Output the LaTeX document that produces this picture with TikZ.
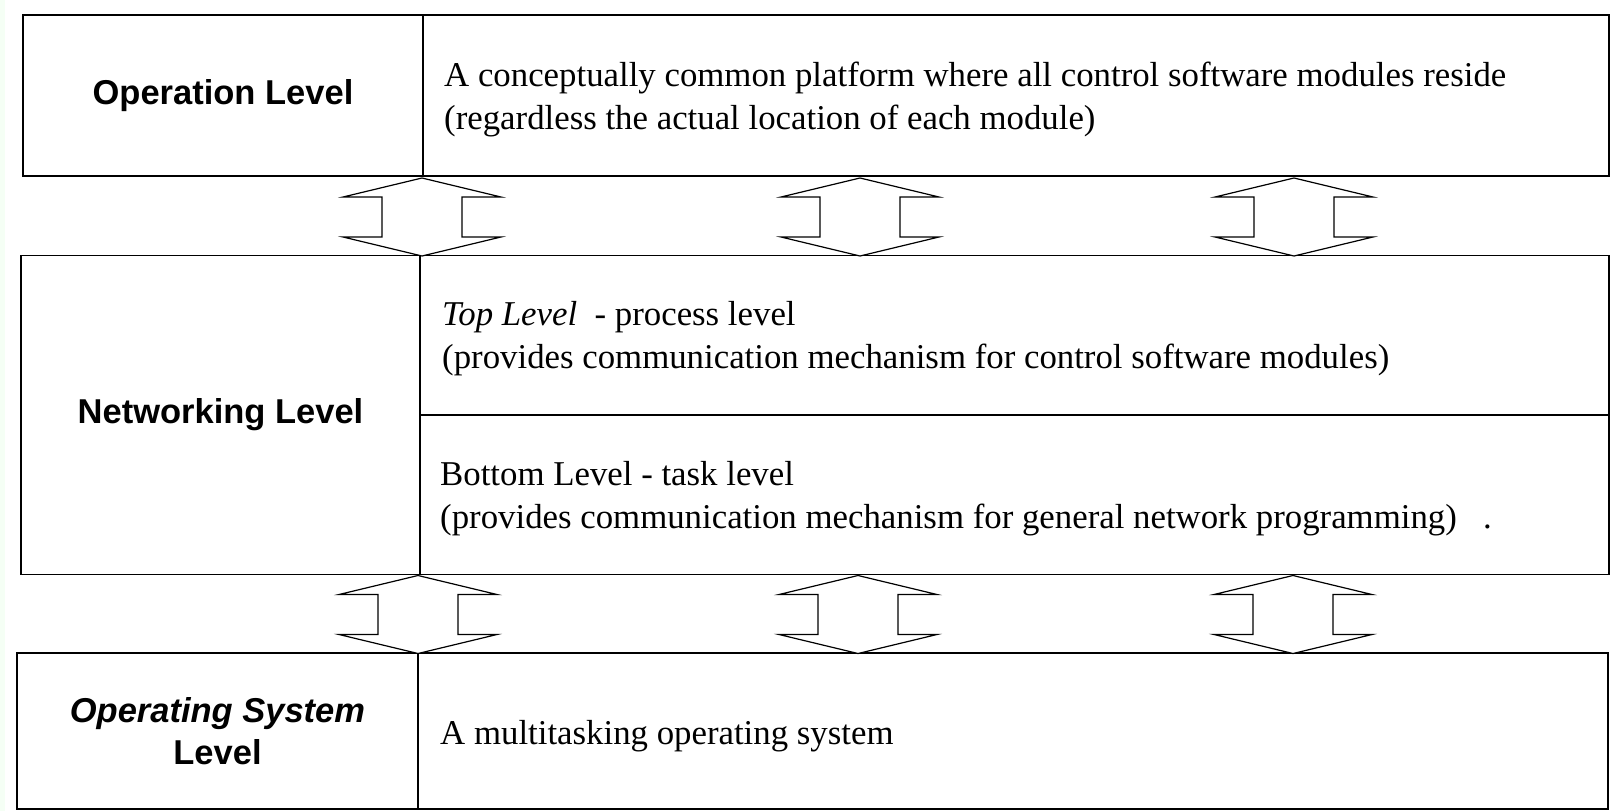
\documentclass[tikz,border=0pt]{standalone}
\usepackage{fontspec}
\setmainfont{Liberation Serif}
\newfontfamily\labelfont{Liberation Sans}
\tikzset{
  frame/.style={draw=black, line width=1.6pt},
  cell/.style={frame, rectangle, inner sep=0pt, outer sep=0pt, align=center,
    font=\labelfont\bfseries\fontsize{34.5}{42}\selectfont},
  desc/.style={anchor=west, align=left, inner sep=0pt,
    font=\fontsize{34.8}{43}\selectfont},
  blockarrow/.style={draw=black, line width=1.2pt, fill=white, line join=miter},
  pics/updown/.style={code={
    \draw[blockarrow] (0,-39) -- (79,-20) -- (40,-20) -- (40,20) -- (79,20)
      -- (0,39) -- (-79,20) -- (-40,20) -- (-40,-20) -- (-79,-20) -- cycle;
  }}
}
\begin{document}
\begin{tikzpicture}[x=1pt, y=-1pt]
\useasboundingbox (0,0) rectangle (1611,811);
\fill[white] (0,0) rectangle (1611,811);
\fill[green!4] (0,0) rectangle (5,811);

% operation level
\node[cell, minimum width=400pt, minimum height=161pt] (oplab) at (223,95.5) {Operation Level};
\draw[frame] (oplab.north east) -- (1609,15) -- (1609,176) -- (oplab.south east);
\node[desc] (optxt) at (444,100)
  {A conceptually common platform where all control software modules reside\\
   (regardless the actual location of each module)};

% networking level
\node[cell, minimum width=399pt, minimum height=319pt] (netlab) at (220.5,415) {Networking Level};
\draw[frame] (netlab.north east) -- (1609,255.5) -- (1609,574.5) -- (netlab.south east);
\coordinate (split) at (netlab.east);
\draw[frame] (split) -- (1609,415);
\node[desc] (toptxt) at (442,338.5)
  {\textit{Top Level}~ - process level\\
   (provides communication mechanism for control software modules)};
\node[desc] (bottxt) at (440,499)
  {Bottom Level - task level\\
   (provides communication mechanism for general network programming)~~ .};

% operating system level
\node[cell, minimum width=401pt, minimum height=156pt] (oslab) at (217.5,731)
  {\itshape Operating System\\Level};
\draw[frame] (oslab.north east) -- (1608,653) -- (1608,809) -- (oslab.south east);
\node[desc] (ostxt) at (440,736.5) {A multitasking operating system};

% exchanges between the levels
\pic (a1) at (422,217) {updown};
\pic (a2) at (860,217) {updown};
\pic (a3) at (1294,217) {updown};
\pic (b1) at (418,614.5) {updown};
\pic (b2) at (858,614.5) {updown};
\pic (b3) at (1293,614.5) {updown};
\end{tikzpicture}
\end{document}
